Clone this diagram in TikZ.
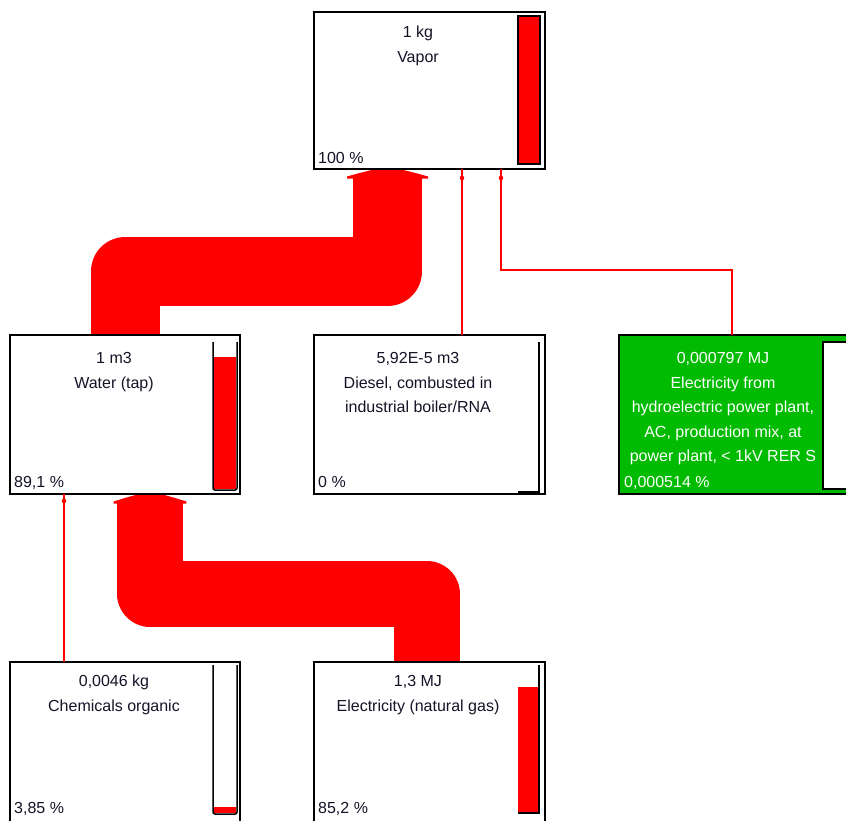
\documentclass[tikz,border=0pt]{standalone}
\usepackage{fontspec}
\setmainfont{Liberation Sans}
\usetikzlibrary{backgrounds}
\definecolor{flowred}{RGB}{255,0,0}
\definecolor{hydrogreen}{RGB}{0,187,0}
\definecolor{txt}{RGB}{20,20,40}
\begin{document}
\begin{tikzpicture}[x=1pt,y=-1pt,
  box/.style={draw=black, line width=1.6pt, fill=white, inner sep=0pt, outer sep=0pt},
  flow/.style={draw=flowred, line width=#1, line join=round, line cap=butt},
  link/.style={draw=flowred, line width=1.8pt},
  lbl/.style={anchor=north, align=center, inner sep=0pt, font=\fontsize{16}{24.5}\selectfont, text=txt},
  pct/.style={anchor=base west, inner sep=0pt, font=\fontsize{16}{24.5}\selectfont, text=txt},
  barframe/.style={draw=black, line width=1.5pt},
  flowcap/.pic={\fill[flowred] (-16,1) -- (16,1) -- (28,4) -- (40.5,7.5) -- (40.5,9.5)
      -- (-40.5,9.5) -- (-40.5,7.5) -- (-28,4) -- cycle;}
]
\useasboundingbox (0,0) rectangle (846,820);

% process boxes
\node[box, minimum width=231pt, minimum height=157pt] (vapor)  at (429.5,90.5) {};
\node[box, minimum width=230pt, minimum height=159pt] (water)  at (125,414.5) {};
\node[box, minimum width=231pt, minimum height=159pt] (diesel) at (429.5,414.5) {};
\node[box, fill=hydrogreen, minimum width=231pt, minimum height=159pt] (hydro) at (734.5,414.5) {};
\node[box, minimum width=230pt, minimum height=160pt] (chem)   at (125,742) {};
\node[box, minimum width=231pt, minimum height=160pt] (elec)   at (429.5,742) {};

% page background and flows, beneath the boxes
\begin{scope}[on background layer]
  \fill[white] (0,0) rectangle (846,820);
  \draw[flow=69pt] ([xshift=-42pt,yshift=-7pt]vapor.south) -- ++(0,95.5) -| (water.north);
  \pic at ([xshift=-42pt]vapor.south) {flowcap};
  \draw[flow=66pt] ([xshift=25pt,yshift=-7pt]water.south) -- ++(0,92.5) -| ([xshift=-3pt]elec.north);
  \pic[xscale=0.9] at ([xshift=25pt]water.south) {flowcap};
\end{scope}

\draw[link] ([xshift=32.5pt]diesel.north) -- ([xshift=32.5pt]vapor.south);
\fill[flowred] ([xshift=32.5pt,yshift=-9pt]vapor.south) circle (2.3pt);
\draw[link] ([xshift=-2.5pt]hydro.north) -- ++(0,-65) -| ([xshift=71.5pt]vapor.south);
\fill[flowred] ([xshift=71.5pt,yshift=-9pt]vapor.south) circle (2.3pt);
\draw[link] ([xshift=-61pt]chem.north) -- ([xshift=-61pt]water.south);
\fill[flowred] ([xshift=-61pt,yshift=-7pt]water.south) circle (2.3pt);

% share bars
\draw[black, line width=1.5pt, fill=flowred] (518,16) rectangle (540,164);
\fill[flowred] (214,357) rectangle (236,489);
\draw[barframe, rounded corners=2pt] (213,342) -- (213,490) -- (237,490) -- (237,342);
\draw[barframe] (518,492) -- (539,492) -- (539,342);
\draw[barframe, fill=white] (823,342) rectangle (850,489);
\fill[flowred] (214,807) rectangle (236,813);
\draw[barframe, rounded corners=2pt] (213,665) -- (213,814) -- (237,814) -- (237,665);
\fill[flowred] (518,687) rectangle (539,813);
\draw[barframe] (518,813) -- (539,813) -- (539,665);

% labels
\node[lbl] (vapor-t)  at (418,20.35) {\strut 1 kg\\Vapor};
\node[lbl] (water-t)  at (114,346.35) {\strut 1 m3\\Water (tap)};
\node[lbl] (diesel-t) at (418,346.35) {\strut 5,92E-5 m3\\Diesel, combusted in\\industrial boiler/RNA};
\node[lbl, text=white] (hydro-t) at (723,346.35) {\strut 0,000797 MJ\\Electricity from\\hydroelectric power plant,\\AC, production mix, at\\power plant, < 1kV RER S};
\node[lbl] (chem-t)   at (114,669.5) {\strut 0,0046 kg\\Chemicals organic};
\node[lbl] (elec-t)   at (418,669.5) {\strut 1,3 MJ\\Electricity (natural gas)};

\node[pct] (vapor-p)  at (318,163) {100 \%};
\node[pct] (water-p)  at (14,487) {89,1 \%};
\node[pct] (diesel-p) at (318,487) {0 \%};
\node[pct, text=white] (hydro-p) at (624,487) {0,000514 \%};
\node[pct] (chem-p)   at (14,813) {3,85 \%};
\node[pct] (elec-p)   at (318,813) {85,2 \%};
\end{tikzpicture}
\end{document}
